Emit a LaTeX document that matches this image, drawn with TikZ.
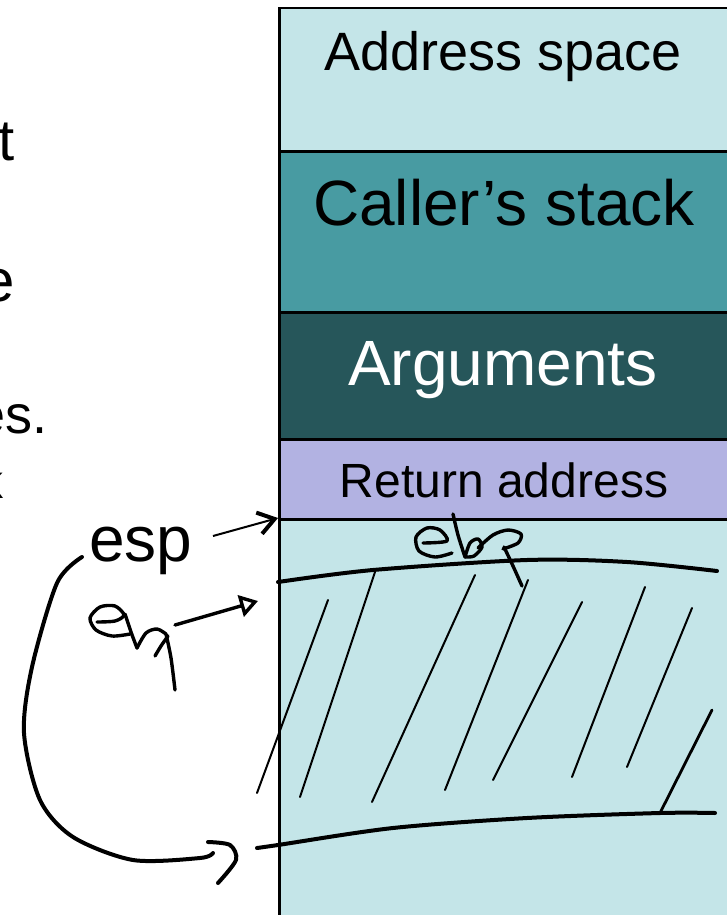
\documentclass[tikz,border=0pt]{standalone}
\usepackage{fontspec}
\setmainfont{Liberation Sans}
\usetikzlibrary{arrows.meta}
\newcommand{\fsz}[1]{\fontsize{#1}{#1}\selectfont}
\definecolor{spacecol}{RGB}{196,229,232}
\definecolor{callercol}{RGB}{72,155,162}
\definecolor{argscol}{RGB}{38,86,90}
\definecolor{retcol}{RGB}{178,178,226}

\begin{document}
\begin{tikzpicture}[
  x=1pt, y=-1pt,
  band/.style={draw=black, line width=2.5pt, anchor=north west, inner sep=0pt,
               minimum width=460pt},
  lbl/.style={anchor=base, inner sep=0pt},
  frag/.style={anchor=base east, inner sep=0pt},
  ink/.style={line width=4pt, line cap=round, line join=round},
  pen/.style={ink, line width=3.4pt},
  hatch/.style={line width=2pt, line cap=round},
  espar/.style={line width=2pt, -{Straight Barb[length=16pt, width=22pt, line width=4pt]}},
  ebpar/.style={pen, -{Triangle[open, length=18pt, width=22pt]}},
]
\useasboundingbox (0,0) rectangle (726,915);

% ---- the stack ------------------------------------------------------------
\node[band, fill=spacecol,  minimum height=143pt] (addr)   at (278,7)   {};
\node[band, fill=callercol, minimum height=161pt] (caller) at (278,150) {};
\node[band, fill=argscol,   minimum height=127pt] (args)   at (278,311) {};
\node[band, fill=retcol,    minimum height=80pt]  (ret)    at (278,438) {};
\node[band, fill=spacecol,  minimum height=420pt] (frame)  at (278,518) {};

\node[lbl, font=\fsz{54}] (addrlbl)   at (503,71)  {Address space};
\node[lbl, font=\fsz{64}] (callerlbl) at (504,225) {Caller’s stack};
\node[lbl, font=\fsz{64}, text=white] (argslbl) at (503,385) {Arguments};
\node[lbl, font=\fsz{48}] (retlbl)    at (504,497) {Return address};

% ---- cut-off slide text ---------------------------------------------------
\node[frag, font=\fsz{58}] (fragt) at (15,160) {t};
\node[frag, font=\fsz{60}] (frage) at (15,301) {e};
\node[frag, font=\fsz{54}] (frages) at (48,433) {es.};
\node[frag, font=\fsz{48}] (fragk) at (4,498) {k};

% ---- esp ------------------------------------------------------------------
\node[lbl, font=\fsz{64}] (esp) at (141,561) {esp};
\coordinate (espfrom) at (213,536);
\draw[espar] (espfrom) -- (frame.north west);

% ---- sketched frame: ebp line, hatching, bottom line ----------------------
\draw[ink] plot[smooth] coordinates {(278,582) (373,570) (527,560) (627,562) (717,571)};
\draw[ink] plot[smooth] coordinates {(257,848) (278,845) (393,828) (527,818) (660,813) (715,813)};

\foreach \ax/\ay/\bx/\by in {257/793/328/600, 300/797/375/572, 372/802/475/575, 445/790/528/580,
                             493/780/582/602, 572/777/645/587, 627/767/692/608}
  \draw[hatch] (\ax,\ay) -- (\bx,\by);
\draw[hatch, line width=2.8pt] (660,813) -- (712,710);

% ebp written over the line
\draw[pen] plot[smooth] coordinates
  {(423,543) (447,541) (440,530) (427,528) (416,537) (419,551) (435,557) (452,553)};
\draw[pen] plot[smooth] coordinates {(453,514) (458,535) (465,557)};
\draw[pen] plot[smooth] coordinates
  {(465,557) (470,543) (478,539) (482,547) (474,556) (465,557)};
\draw[pen] plot[smooth] coordinates
  {(478,548) (493,535) (508,530) (521,534) (518,543) (503,549)};
\draw[pen] plot[smooth] coordinates {(504,547) (513,566) (522,586)};

% ebp pointer on the left
\draw[pen] plot[smooth] coordinates
  {(97,622) (115,621) (124,615) (115,606) (100,607) (90,618) (96,630) (112,636) (130,634)};
\draw[pen] plot[smooth] coordinates {(125,614) (131,632) (137,648)};
\draw[pen] plot[smooth] coordinates {(137,648) (146,633) (157,629) (166,634)};
\draw[pen] plot[smooth] coordinates {(166,634) (171,658) (175,690)};
\draw[pen] plot[smooth] coordinates {(155,656) (161,646) (168,636)};
\coordinate (ebpfrom) at (175,625);
\coordinate (ebpto) at (258,601);
\draw[ebpar] (ebpfrom) -- (ebpto);

% curved pointer from esp down to the bottom line
\draw[ink] plot[smooth] coordinates
  {(82,557) (57,583) (32,667) (24,733) (40,800) (73,837) (133,860) (200,858) (213,853)};
\draw[ink] plot[smooth] coordinates {(208,842) (230,845) (236,860) (218,883)};

\end{tikzpicture}
\end{document}
